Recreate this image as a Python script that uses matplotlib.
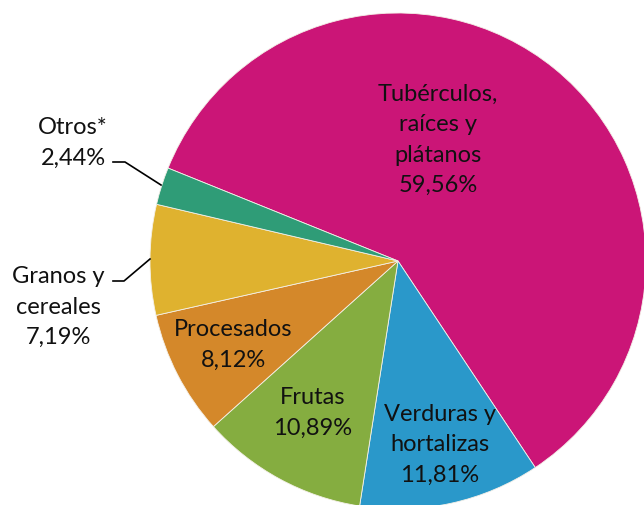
import matplotlib
matplotlib.use('Agg')
import matplotlib.pyplot as plt

# data
categorias = ['Tubérculos,\nraíces y\nplátanos', 'Verduras y\nhortalizas', 'Frutas',
              'Procesados', 'Granos y\ncereales', 'Otros*']
valores = [59.56, 11.81, 10.89, 8.12, 7.19, 2.44]
colores = ['#CB1577', '#2A98CA', '#85AD40', '#D4882A', '#DFB22F', '#2F9C77']

plt.rcParams['font.family'] = ['Lato', 'DejaVu Sans']

W, H = 644, 506
cx, cy, R = 398, 262, 248

fig = plt.figure(figsize=(W / 100, H / 100), dpi=100)
ax = fig.add_axes([0, 0, 1, 1])
ax.pie(valores, colors=colores, startangle=158.0, counterclock=False,
       radius=R, center=(0, 0),
       wedgeprops=dict(edgecolor='#f4f0e8', linewidth=0.6))
ax.set_xlim(-cx, W - cx)
ax.set_ylim(-(H - cy), cy)
ax.set_aspect('equal')
ax.axis('off')


def px(x, y):
    # pixel coords of the reference -> data coords
    return x - cx, cy - y


def fmt(v):
    return f"{v:.2f}".replace('.', ',') + '%'


# label centres in pixels
pos = [(438, 140), (440, 445), (313, 413), (233, 345), (58, 307), (73, 143)]
for cat, v, (x, y) in zip(categorias, valores, pos):
    ax.text(*px(x, y), cat + '\n' + fmt(v), ha='center', va='center',
            fontsize=17, color='#111111', linespacing=1.55)

# leader lines
for pts in [[(113, 163), (125, 163), (161, 186)],
            [(113, 282), (124, 282), (150, 260)]]:
    xs, ys = zip(*[px(a, b) for a, b in pts])
    ax.plot(xs, ys, color='black', lw=1.2)

fig.savefig('out.png', dpi=100)
